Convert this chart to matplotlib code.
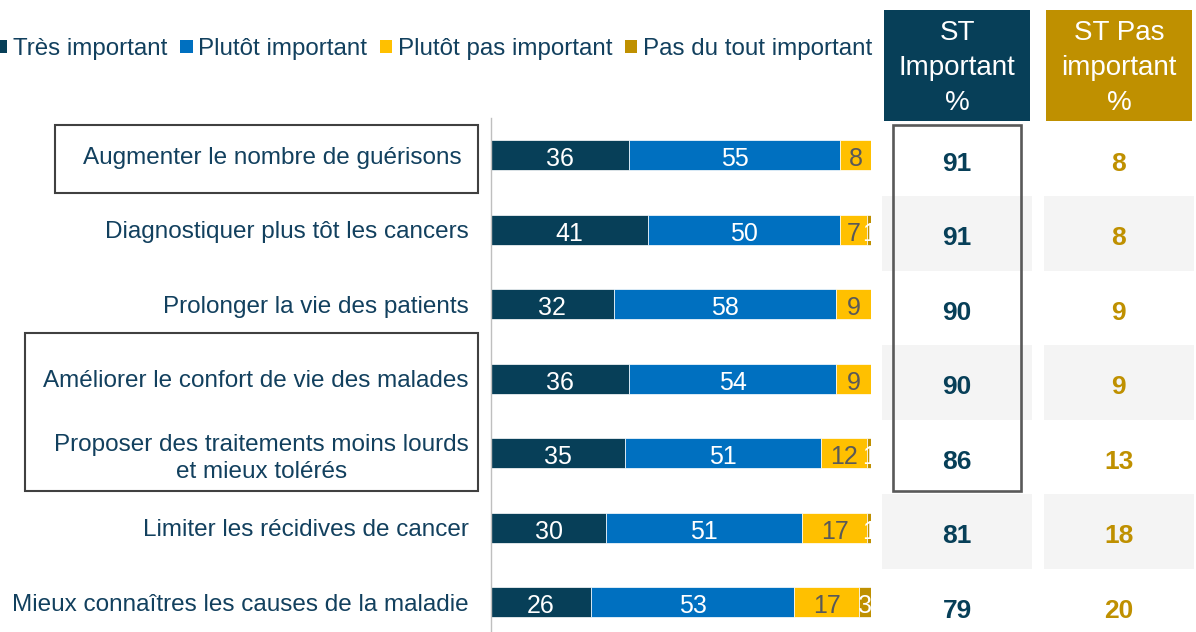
import matplotlib
matplotlib.use('Agg')
import matplotlib.pyplot as plt
from matplotlib.patches import Rectangle, Patch
from matplotlib.transforms import ScaledTranslation

categories = [
    "Augmenter le nombre de guérisons",
    "Diagnostiquer plus tôt les cancers",
    "Prolonger la vie des patients",
    "Améliorer le confort de vie des malades",
    "Proposer des traitements moins lourds\net mieux tolérés",
    "Limiter les récidives de cancer",
    "Mieux connaîtres les causes de la maladie",
]
tres = [36, 41, 32, 36, 35, 30, 26]
plutot = [55, 50, 58, 54, 51, 51, 53]
plutot_pas = [8, 7, 9, 9, 12, 17, 17]
pas_du_tout = [0, 1, 0, 0, 1, 1, 3]
st_important = [91, 91, 90, 90, 86, 81, 79]
st_pas = [8, 8, 9, 9, 13, 18, 20]
series_names = ["Très important", "Plutôt important", "Plutôt pas important", "Pas du tout important"]
col_headers = ["ST\nImportant\n%", "ST Pas\nimportant\n%"]

colors = ["#073f58", "#0070c0", "#ffc000", "#bf9000"]
label_colors = ["white", "white", "#595959", "white"]
text_color = "#12405e"

plt.rcParams['font.family'] = ['Liberation Sans', 'DejaVu Sans']

W, H = 1196, 632
fig = plt.figure(figsize=(W / 100, H / 100), dpi=100)


def px_axes(l, t, r, b):
    return fig.add_axes([l / W, 1 - b / H, (r - l) / W, (b - t) / H])


ax = px_axes(491, 118, 871, 632)
ax.set_xlim(0, 99)
ax.set_ylim(6.4, -0.5)

series = [tres, plutot, plutot_pas, pas_du_tout]
y = list(range(len(categories)))
left = [0] * len(categories)
for s, vals in enumerate(series):
    ax.barh(y, vals, left=left, height=0.4, color=colors[s], edgecolor='white',
            linewidth=0.5, label=series_names[s])
    for i, v in enumerate(vals):
        if v > 0:
            ax.text(left[i] + v / 2, i + 0.02, str(v), ha='center', va='center_baseline',
                    fontsize=18, color=label_colors[s], clip_on=True)
    left = [l + v for l, v in zip(left, vals)]

ax.set_yticks(y)
ax.set_yticklabels(categories, fontsize=17.5, color=text_color)
for lab in ax.get_yticklabels():
    lab.set_multialignment('center')
    lab.set_linespacing(1.3)
ax.tick_params(axis='y', length=0, pad=16)
ax.tick_params(axis='x', bottom=False, labelbottom=False)
for side in ['top', 'right', 'bottom']:
    ax.spines[side].set_visible(False)
ax.spines['left'].set_color('#bfbfbf')
ax.spines['left'].set_linewidth(1)

# first label sits a little further left in its box
ax.yaxis.get_major_ticks()[0].label1.set_transform(
    ax.yaxis.get_major_ticks()[0].label1.get_transform()
    + ScaledTranslation(-7 / 100, 0, fig.dpi_scale_trans))

# boxes around labels
for (x0, x1, y0, y1) in [(-113.6, -3.4, -0.406, 0.507), (-121.4, -3.4, 2.386, 4.507)]:
    ax.add_patch(Rectangle((x0, y0), x1 - x0, y1 - y0, fill=False, edgecolor='#404040',
                           linewidth=1.5, clip_on=False))

# legend
handles = [Patch(facecolor=c) for c in colors]
fig.legend(handles, series_names, loc='center right', bbox_to_anchor=(872 / W, 1 - 49 / H),
           ncol=4, frameon=False, fontsize=17.4, handlelength=0.5, handleheight=0.5,
           handletextpad=0.22, columnspacing=0.55, labelcolor=text_color, borderaxespad=0,
           borderpad=0)

# table
tx = px_axes(881, 118, 1195, 632)
tx.set_xlim(-0.47, 1.47)
tx.set_ylim(6.4, -0.5)
tx.axis('off')

col_vals = [st_important, st_pas]
col_colors = ["#073f58", "#bf9000"]
for c in range(2):
    for i, v in enumerate(col_vals[c]):
        if i % 2 == 1:
            tx.add_patch(Rectangle((c - 0.465, i + 0.05 - 0.5), 0.93, 1.0,
                                   facecolor='#f4f4f4', edgecolor='none', clip_on=False))
        tx.text(c, i + 0.08, str(v), ha='center', va='center_baseline', fontsize=19,
                fontweight='bold', color=col_colors[c])
    tx.add_patch(Rectangle((c - 0.45, -1.95), 0.9, 1.49, facecolor=col_colors[c],
                           edgecolor='none', clip_on=False))
    tx.text(c, -1.17, col_headers[c], ha='center', va='center', fontsize=20,
            color='white', linespacing=1.45)

tx.add_patch(Rectangle((-0.396, -0.406), 0.791, 4.913, fill=False, edgecolor='#595959',
                       linewidth=1.9, clip_on=False, zorder=5))

fig.savefig('out.png', dpi=100)
